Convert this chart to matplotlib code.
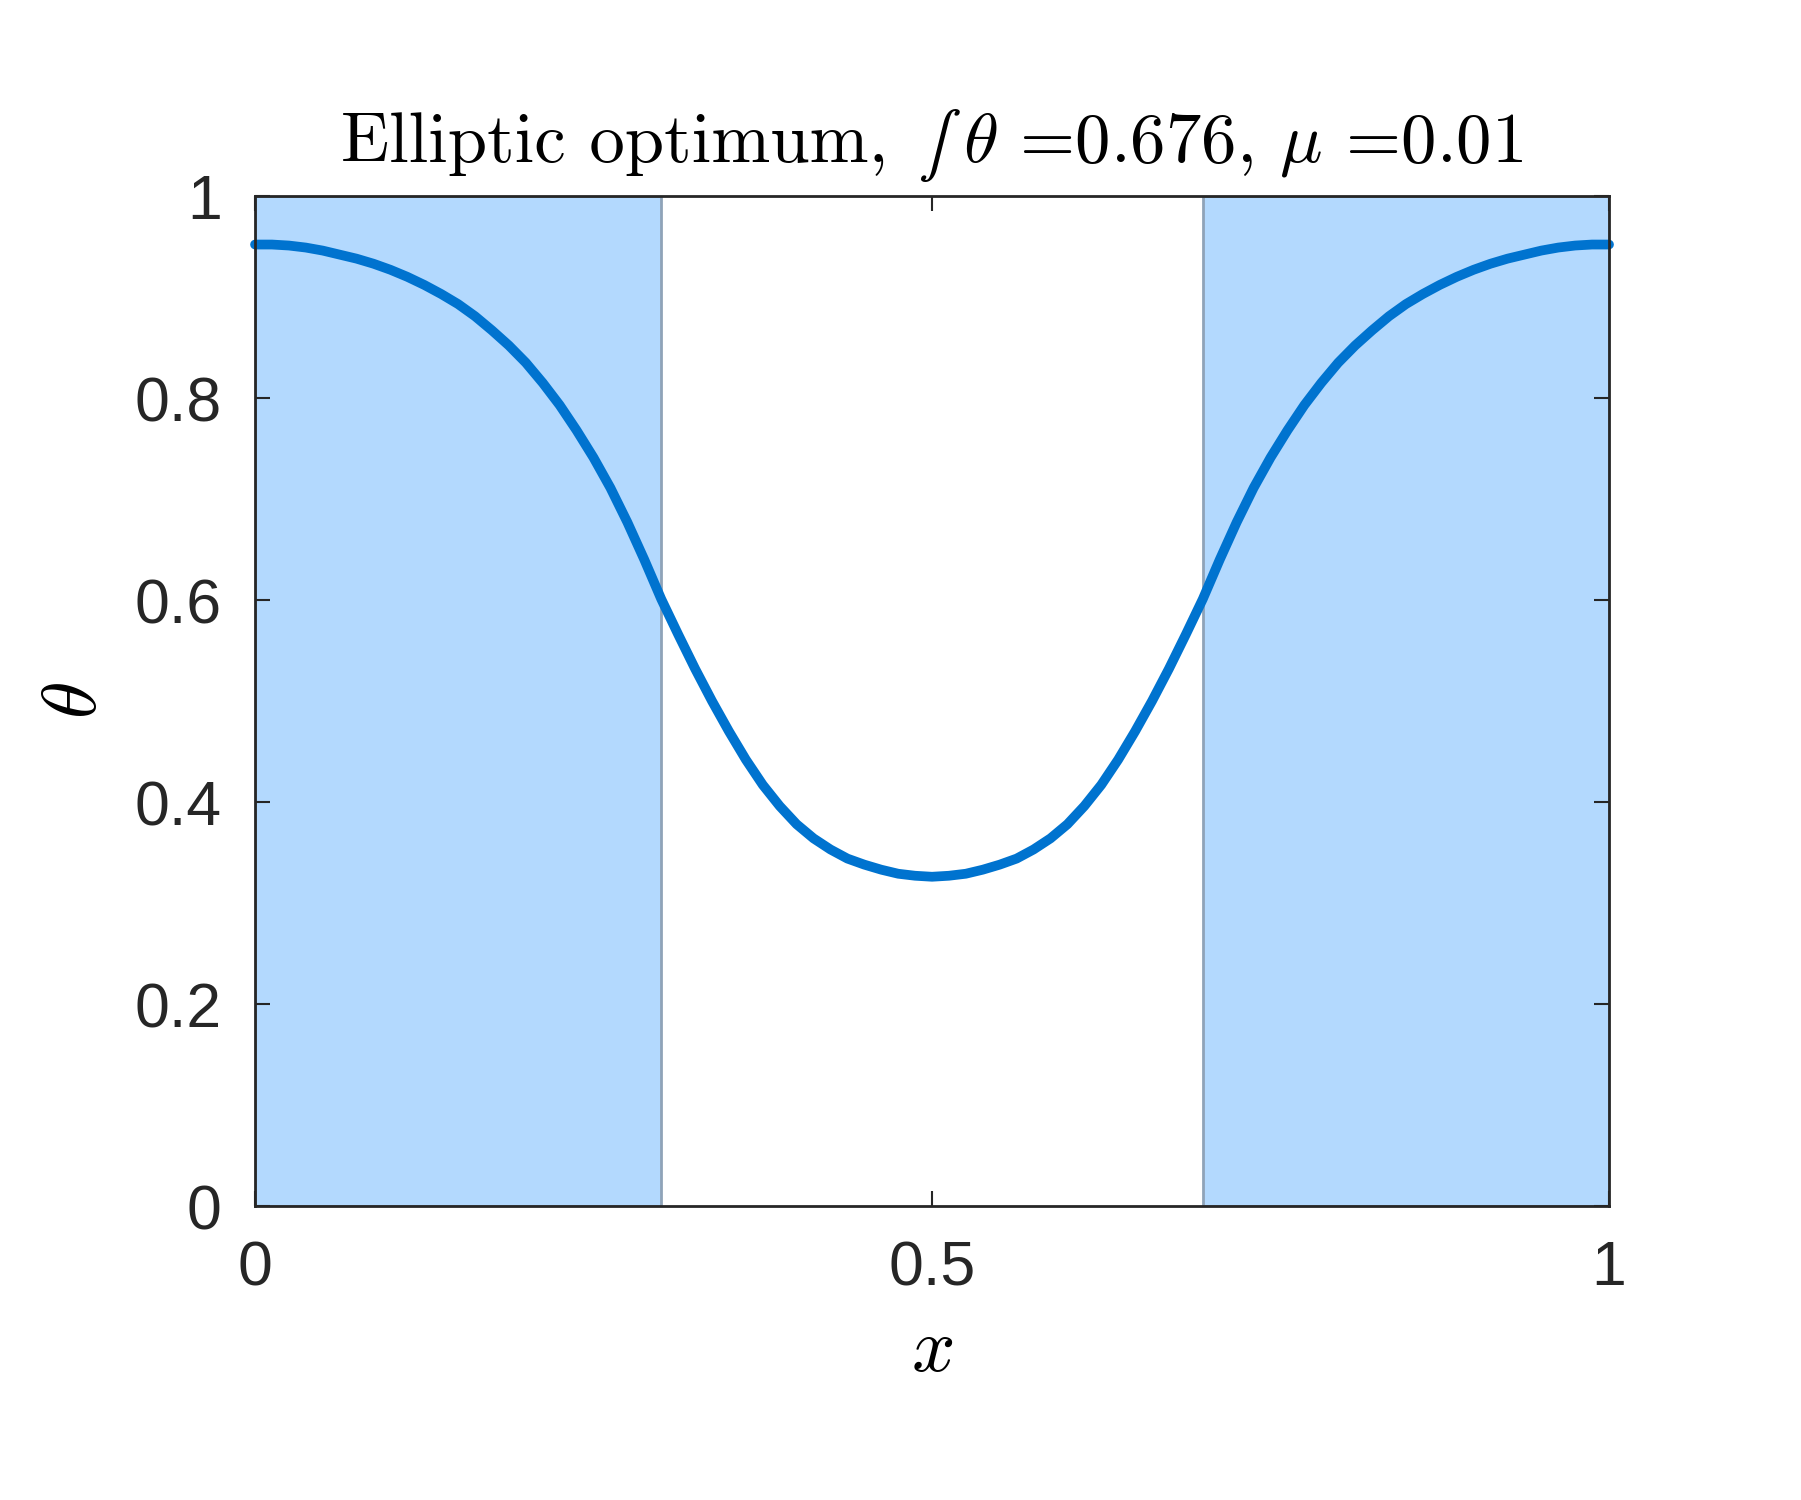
import matplotlib
matplotlib.use("Agg")
import matplotlib.pyplot as plt
from matplotlib.offsetbox import TextArea, HPacker, AnchoredOffsetbox

# curve (left half, x in [0, 0.5]); the right half mirrors it
x_half = [0.0, 0.0125, 0.025, 0.0375, 0.05, 0.0625, 0.075, 0.0875, 0.1, 0.1125,
          0.125, 0.1375, 0.15, 0.1625, 0.175, 0.1875, 0.2, 0.2125, 0.225, 0.2375,
          0.25, 0.2625, 0.275, 0.2875, 0.3, 0.3125, 0.325, 0.3375, 0.35, 0.3625,
          0.375, 0.3875, 0.4, 0.4125, 0.425, 0.4375, 0.45, 0.4625, 0.475, 0.4875, 0.5]
theta_half = [0.952, 0.952, 0.951, 0.949, 0.946, 0.942, 0.938, 0.933, 0.927, 0.920,
              0.912, 0.903, 0.893, 0.881, 0.867, 0.852, 0.835, 0.815, 0.793, 0.768,
              0.741, 0.711, 0.677, 0.640, 0.601, 0.566, 0.532, 0.500, 0.470, 0.442,
              0.417, 0.396, 0.378, 0.364, 0.353, 0.344, 0.338, 0.333, 0.329, 0.327, 0.326]

x_vals = x_half + [1 - v for v in reversed(x_half[:-1])]
theta_vals = theta_half + list(reversed(theta_half[:-1]))

# shaded intervals where theta is "on"
shaded = [(0.0, 0.3), (0.7, 1.0)]

xticks = [0, 0.5, 1]
xtick_labels = ["0", "0.5", "1"]
yticks = [0, 0.2, 0.4, 0.6, 0.8, 1]
ytick_labels = ["0", "0.2", "0.4", "0.6", "0.8", "1"]

# title pieces: the integral sign comes from STIX, the rest is Computer Modern
title_parts = ["Elliptic optimum,", "", "\u222b", r"$\theta$ =0.676, $\mu$ =0.01"]

plt.rcParams["mathtext.fontset"] = "cm"
plt.rcParams["font.family"] = ["Liberation Sans", "DejaVu Sans"]

fig = plt.figure(figsize=(18.01, 15), dpi=100)
ax = fig.add_axes([0.1416, 0.196, 0.7518, 0.6733])

for a, b in shaded:
    ax.axvspan(a, b, facecolor="#b3d9fe", edgecolor="#8fa3b8", linewidth=2.0, zorder=1)

ax.plot(x_vals, theta_vals, color="#0073cf", linewidth=7, solid_capstyle="round",
        solid_joinstyle="round", zorder=3, clip_on=False)

ax.set_xlim(0, 1)
ax.set_ylim(0, 1)
ax.set_xticks(xticks)
ax.set_xticklabels(xtick_labels)
ax.set_yticks(yticks)
ax.set_yticklabels(ytick_labels)

ax.tick_params(direction="in", length=11, width=1.5, color="#262626", labelcolor="#262626",
               labelsize=45, top=True, right=True, pad=24)
for sp in ax.spines.values():
    sp.set_linewidth(2)
    sp.set_color("#262626")
    sp.set_zorder(4)

cm_props = dict(fontsize=51, family="cmr10", color="black")
int_props = dict(fontsize=46, family="STIXGeneral", color="black")
pieces = [TextArea(title_parts[0], textprops=cm_props),
          TextArea(title_parts[1], textprops=cm_props),
          TextArea(title_parts[2], textprops=int_props),
          TextArea(title_parts[3], textprops=cm_props)]
packed = HPacker(children=pieces, align="baseline", pad=0, sep=11)
title_box = AnchoredOffsetbox(loc="lower center", child=packed, frameon=False, pad=0,
                              borderpad=0, bbox_to_anchor=(0.5, 1.014),
                              bbox_transform=ax.transAxes)
ax.add_artist(title_box)

ax.set_xlabel(r"$x$", fontsize=55, labelpad=13)
ax.set_ylabel(r"$\theta$", fontsize=55, labelpad=16)

fig.savefig("out.png", dpi=100, facecolor="white")
